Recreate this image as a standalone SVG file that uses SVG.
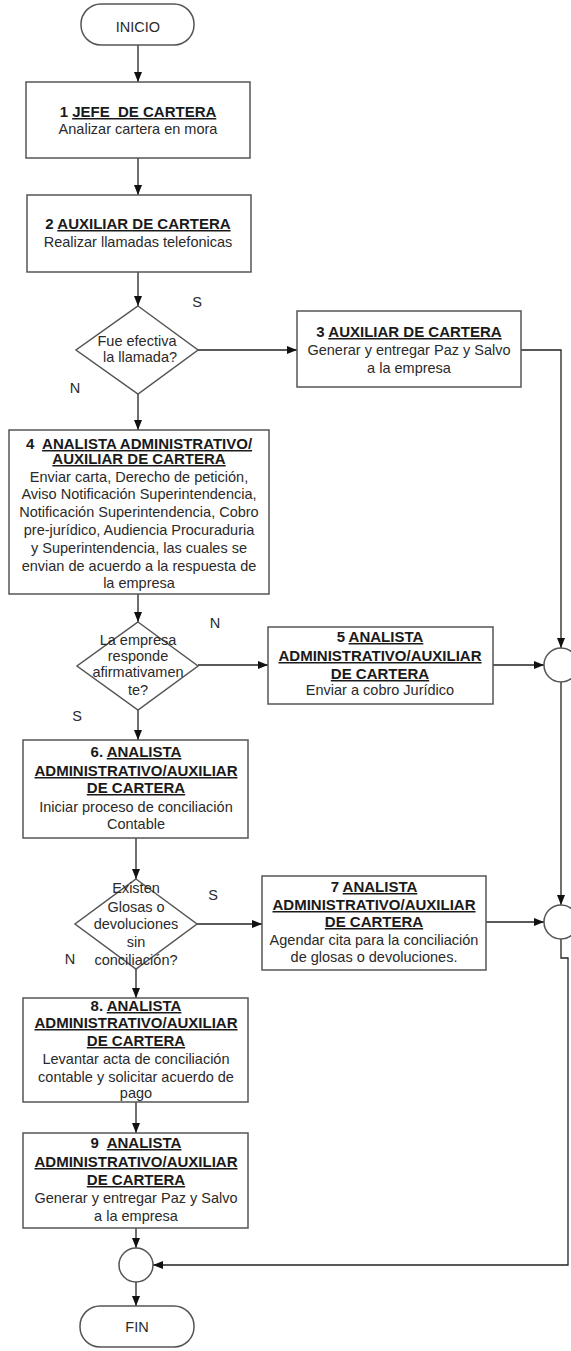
<svg xmlns="http://www.w3.org/2000/svg" width="571" height="1351" viewBox="0 0 571 1351">
<defs>
<marker id="arr" markerWidth="10" markerHeight="8" refX="10" refY="4" orient="auto" markerUnits="userSpaceOnUse">
<path d="M0,0 L10,4 L0,8 Z" fill="#111"/>
</marker>
<style>
.box{fill:#fff;stroke:#555;stroke-width:1.5}
.ln{fill:none;stroke:#222;stroke-width:1.3}
.t{font-family:"Liberation Sans",Arial,sans-serif;font-size:14.5px;fill:#2a2a2a;text-anchor:middle;white-space:pre}
.b{font-weight:bold;font-size:15px;fill:#1a1a1a}
.u{text-decoration:underline}
</style>
</defs>
<rect width="571" height="1351" fill="#fff"/>

<g id="connectors">
<line class="ln" x1="138" y1="45" x2="138" y2="82" marker-end="url(#arr)"/>
<line class="ln" x1="138" y1="158" x2="138" y2="195" marker-end="url(#arr)"/>
<line class="ln" x1="138" y1="272" x2="138" y2="306" marker-end="url(#arr)"/>
<line class="ln" x1="198" y1="350" x2="297" y2="350" marker-end="url(#arr)"/>
<line class="ln" x1="138" y1="394" x2="138" y2="430" marker-end="url(#arr)"/>
<path class="ln" d="M521,350 H561 V648" marker-end="url(#arr)"/>
<line class="ln" x1="138" y1="594" x2="138" y2="622" marker-end="url(#arr)"/>
<line class="ln" x1="198" y1="665" x2="268" y2="665" marker-end="url(#arr)"/>
<line class="ln" x1="493" y1="665" x2="544" y2="665" marker-end="url(#arr)"/>
<line class="ln" x1="561" y1="682" x2="561" y2="905" marker-end="url(#arr)"/>
<line class="ln" x1="138" y1="710" x2="138" y2="740" marker-end="url(#arr)"/>
<line class="ln" x1="136" y1="838" x2="136" y2="879" marker-end="url(#arr)"/>
<line class="ln" x1="197" y1="924" x2="262" y2="924" marker-end="url(#arr)"/>
<line class="ln" x1="486" y1="922" x2="544" y2="922" marker-end="url(#arr)"/>
<line class="ln" x1="136" y1="969" x2="136" y2="998" marker-end="url(#arr)"/>
<line class="ln" x1="136" y1="1102" x2="136" y2="1133" marker-end="url(#arr)"/>
<line class="ln" x1="136" y1="1228" x2="136" y2="1248" marker-end="url(#arr)"/>
<line class="ln" x1="136" y1="1282" x2="136" y2="1306" marker-end="url(#arr)"/>
<path class="ln" d="M561,939 V958 H568 V1265 H153" marker-end="url(#arr)"/>
</g>

<g id="labels">
<text class="t" x="197" y="307">S</text>
<text class="t" x="75" y="393">N</text>
<text class="t" x="215" y="628">N</text>
<text class="t" x="77" y="721">S</text>
<text class="t" x="213" y="900">S</text>
<text class="t" x="70" y="964">N</text>
</g>

<g id="inicio">
<rect class="box" x="81" y="4" width="113" height="41" rx="20" ry="20"/>
<text class="t" x="138" y="32">INICIO</text>
</g>

<g id="n1">
<rect class="box" x="26" y="82" width="224" height="76"/>
<text class="t b" x="138" y="117">1 <tspan class="u">JEFE  DE CARTERA</tspan></text>
<text class="t" x="138" y="134">Analizar cartera en mora</text>
</g>

<g id="n2">
<rect class="box" x="27" y="195" width="224" height="77"/>
<text class="t b" x="138" y="229">2 <tspan class="u">AUXILIAR DE CARTERA</tspan></text>
<text class="t" x="138" y="247">Realizar llamadas telefonicas</text>
</g>

<g id="d1">
<polygon class="box" points="138,306 198,350 138,394 76,350"/>
<text class="t" x="137" y="346">Fue efectiva</text>
<text class="t" x="140" y="362">la llamada?</text>
</g>

<g id="n3">
<rect class="box" x="297" y="311" width="224" height="76"/>
<text class="t b" x="409" y="337">3 <tspan class="u">AUXILIAR DE CARTERA</tspan></text>
<text class="t" x="409" y="355">Generar y entregar Paz y Salvo</text>
<text class="t" x="409" y="373">a la empresa</text>
</g>

<g id="n4">
<rect class="box" x="9" y="430" width="260" height="164"/>
<text class="t b" x="139" y="449">4  <tspan class="u">ANALISTA ADMINISTRATIVO/</tspan></text>
<text class="t b u" x="139" y="464">AUXILIAR DE CARTERA</text>
<text class="t" x="139" y="482">Enviar carta, Derecho de petición,</text>
<text class="t" x="139" y="499">Aviso Notificación Superintendencia,</text>
<text class="t" x="139" y="517">Notificación Superintendencia, Cobro</text>
<text class="t" x="139" y="535">pre-jurídico, Audiencia Procuraduria</text>
<text class="t" x="139" y="553">y Superintendencia, las cuales se</text>
<text class="t" x="139" y="571">envian de acuerdo a la respuesta de</text>
<text class="t" x="139" y="588">la empresa</text>
</g>

<g id="d2">
<polygon class="box" points="138,622 198,666 138,710 77,666"/>
<text class="t" x="138" y="645">La empresa</text>
<text class="t" x="138" y="661">responde</text>
<text class="t" x="138" y="677">afirmativamen</text>
<text class="t" x="138" y="695">te?</text>
</g>

<g id="n5">
<rect class="box" x="268" y="627" width="225" height="77"/>
<text class="t b" x="380" y="642">5 <tspan class="u">ANALISTA</tspan></text>
<text class="t b u" x="380" y="661">ADMINISTRATIVO/AUXILIAR</text>
<text class="t b u" x="380" y="679">DE CARTERA</text>
<text class="t" x="380" y="695">Enviar a cobro Jurídico</text>
</g>

<g id="c1">
<circle class="box" cx="561" cy="665" r="17"/>
</g>

<g id="n6">
<rect class="box" x="23" y="740" width="225" height="98"/>
<text class="t b" x="136" y="757">6. <tspan class="u">ANALISTA</tspan></text>
<text class="t b u" x="136" y="776">ADMINISTRATIVO/AUXILIAR</text>
<text class="t b u" x="136" y="793">DE CARTERA</text>
<text class="t" x="136" y="812">Iniciar proceso de conciliación</text>
<text class="t" x="136" y="829">Contable</text>
</g>

<g id="d3">
<polygon class="box" points="136,879 197,924 136,969 75,924"/>
<text class="t" x="136" y="893">Existen</text>
<text class="t" x="136" y="912">Glosas o</text>
<text class="t" x="136" y="929">devoluciones</text>
<text class="t" x="136" y="947">sin</text>
<text class="t" x="136" y="965">conciliación?</text>
</g>

<g id="n7">
<rect class="box" x="262" y="876" width="224" height="94"/>
<text class="t b" x="374" y="892">7 <tspan class="u">ANALISTA</tspan></text>
<text class="t b u" x="374" y="910">ADMINISTRATIVO/AUXILIAR</text>
<text class="t b u" x="374" y="927">DE CARTERA</text>
<text class="t" x="374" y="945">Agendar cita para la conciliación</text>
<text class="t" x="374" y="962">de glosas o devoluciones.</text>
</g>

<g id="c2">
<circle class="box" cx="561" cy="922" r="17"/>
</g>

<g id="n8">
<rect class="box" x="23" y="998" width="225" height="104"/>
<text class="t b" x="136" y="1011">8. <tspan class="u">ANALISTA</tspan></text>
<text class="t b u" x="136" y="1028">ADMINISTRATIVO/AUXILIAR</text>
<text class="t b u" x="136" y="1046">DE CARTERA</text>
<text class="t" x="136" y="1064">Levantar acta de conciliación</text>
<text class="t" x="136" y="1082">contable y solicitar acuerdo de</text>
<text class="t" x="136" y="1098">pago</text>
</g>

<g id="n9">
<rect class="box" x="23" y="1133" width="225" height="95"/>
<text class="t b" x="136" y="1148">9  <tspan class="u">ANALISTA</tspan></text>
<text class="t b u" x="136" y="1167">ADMINISTRATIVO/AUXILIAR</text>
<text class="t b u" x="136" y="1185">DE CARTERA</text>
<text class="t" x="136" y="1203">Generar y entregar Paz y Salvo</text>
<text class="t" x="136" y="1221">a la empresa</text>
</g>

<g id="c3">
<circle class="box" cx="136" cy="1265" r="17"/>
</g>

<g id="fin">
<rect class="box" x="80" y="1306" width="114" height="41" rx="20" ry="20"/>
<text class="t" x="137" y="1332">FIN</text>
</g>
</svg>
